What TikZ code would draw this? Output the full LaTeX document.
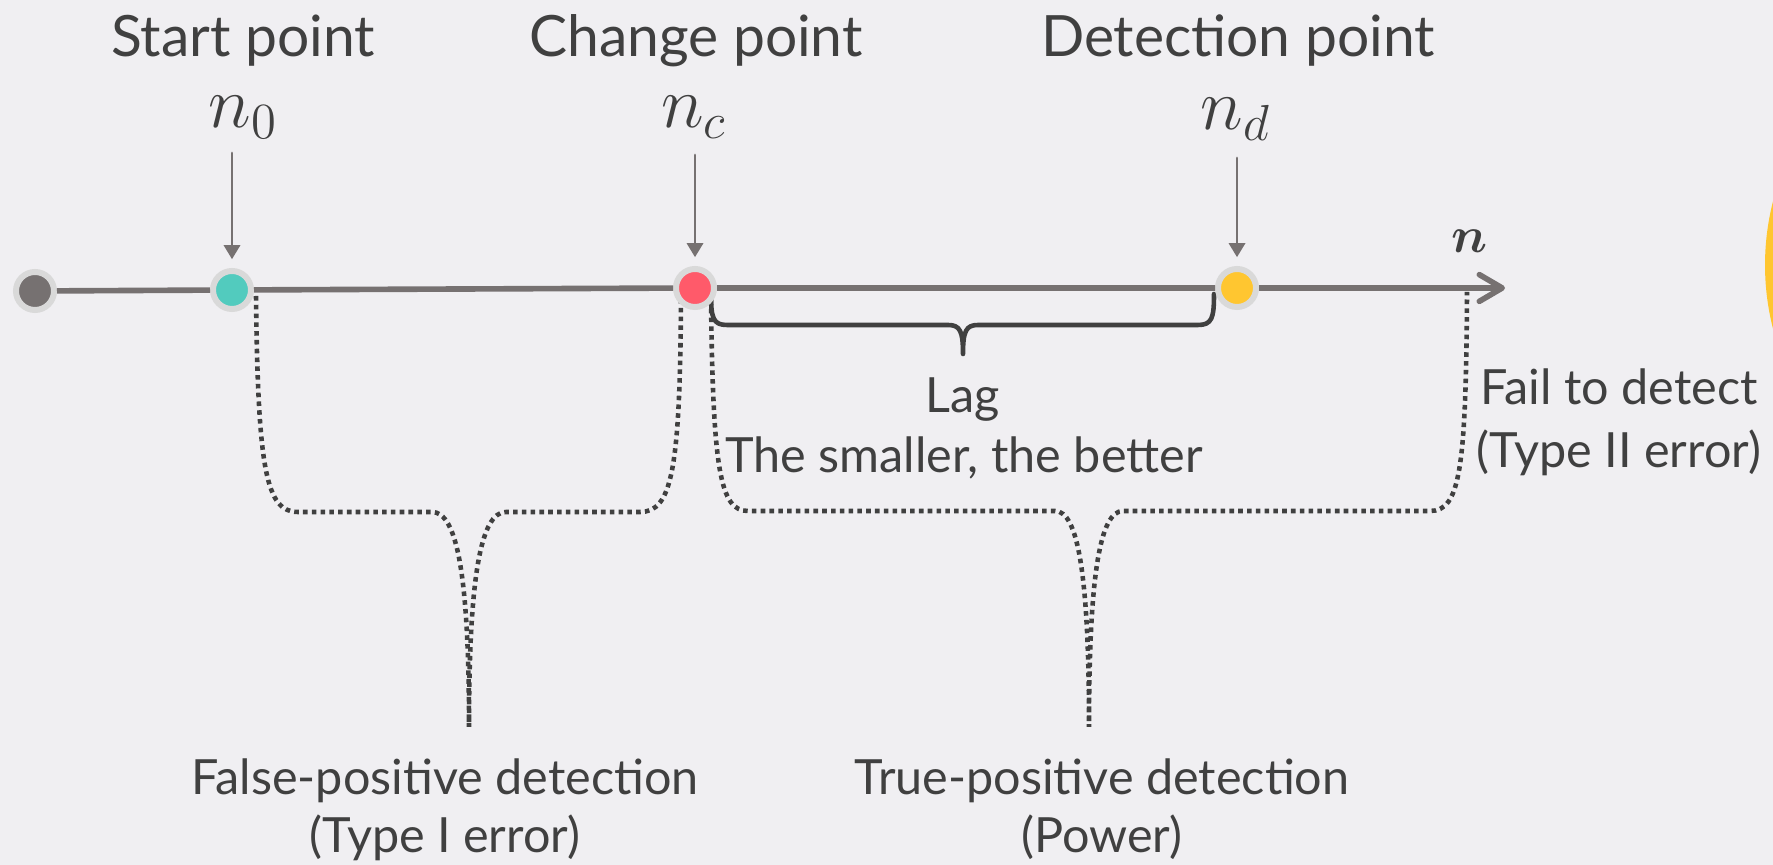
\documentclass[tikz,border=0pt]{standalone}
\usepackage{amsmath,amssymb}
\usepackage[no-math]{fontspec}
\setmainfont{Lato}
\usepackage{tikz}
\usetikzlibrary{arrows.meta}
\usepackage{xcolor}
\definecolor{bgcol}{HTML}{F0EFF2}
\definecolor{axisgray}{HTML}{767171}
\definecolor{ringgray}{HTML}{D9D9D9}
\definecolor{dotteal}{HTML}{52CBBE}
\definecolor{dotred}{HTML}{FF5A6A}
\definecolor{dotyellow}{HTML}{FFC630}
\definecolor{inkgray}{HTML}{404040}

\begin{document}
\begin{tikzpicture}[x=0.01cm,y=-0.01cm,line cap=round,
  dot/.style={circle,draw=ringgray,line width=1.7pt,minimum size=3.8mm,inner sep=0pt},
  axisline/.style={axisgray,line width=1.6pt,line cap=butt},
  pointer/.style={axisgray,line width=0.8pt,-{Triangle[length=4pt,width=4.6pt]},shorten >=2.5pt},
  dotpath/.style={draw=inkgray,line width=1.3pt,line cap=butt,dash pattern=on 1.3pt off 1.2pt},
  heading/.style={text=inkgray,font=\fontsize{16.2}{19}\selectfont,anchor=base},
  caption/.style={text=inkgray,font=\fontsize{13.8}{17}\selectfont,anchor=base},
  mathlabel/.style={text=inkgray,font=\fontsize{19.5}{22}\selectfont,anchor=base}]
\fill[bgcol] (0,0) rectangle (1773,865);
\useasboundingbox (0,0) rectangle (1773,865);
\begin{scope}
\clip (0,0) rectangle (1773,865);
\fill[dotyellow] (2021,265) circle (256);
\end{scope}
% dotted braces under the axis
\draw[dotpath] (256,296) .. controls (258,470) and (266,512) .. (298,512) -- (432,512)
  .. controls (457,512) and (469,575) .. (469,727) .. controls (469,575) and (481,512) .. (506,512)
  -- (640,512) .. controls (672,512) and (680,470) .. (681,298);
\draw[dotpath] (711,300) .. controls (713,470) and (720,511) .. (748,511) -- (1055,511)
  .. controls (1078,511) and (1089,575) .. (1089,727) .. controls (1089,575) and (1100,511) .. (1123,511)
  -- (1430,511) .. controls (1460,511) and (1466,470) .. (1467,292);
% lag brace
\draw[inkgray,line width=1.3pt,line join=round] (711,294) .. controls (711,318) and (713,325) .. (727,325)
  -- (948,325) .. controls (960,325) and (963,331) .. (963,354) .. controls (963,331) and (966,325) .. (978,325)
  -- (1198,325) .. controls (1212,325) and (1214,318) .. (1214,294);
% points on the axis
\node[dot,fill=axisgray] (origin) at (35,291) {};
\node[dot,fill=dotteal] (start) at (232,290) {};
\node[dot,fill=dotred] (change) at (695,288) {};
\node[dot,fill=dotyellow] (detect) at (1237,288) {};
\coordinate (axisend) at (1505,288);
\draw[axisline] (origin) -- (start) -- (change) -- (detect);
\draw[axisline,-{Straight Barb[length=6.5pt,width=7.6pt,round]}] (detect) -- (axisend);
\node[text=inkgray,font=\fontsize{15.5}{18}\selectfont,anchor=base] (axisname) at (1470,253) {$\boldsymbol{n}$};
% pointers from the labels
\coordinate (starttop) at (232,153);
\coordinate (changetop) at (695,155);
\coordinate (detecttop) at (1237,158);
\draw[pointer] (starttop) -- (start);
\draw[pointer] (changetop) -- (change);
\draw[pointer] (detecttop) -- (detect);
\node[heading] (startname) at (243,57) {Start point};
\node[heading] (changename) at (696,57) {Change point};
\node[heading] (detectname) at (1238,57) {Detection point};
\node[mathlabel] (startsym) at (243,128) {$n_0$};
\node[mathlabel] (changesym) at (694,128) {$n_c$};
\node[mathlabel] (detectsym) at (1236,130) {$n_d$};
% captions
\node[caption] (lag) at (963,413) {Lag};
\node[caption] (lagnote) at (964,473) {The smaller, the better};
\node[caption] (miss) at (1619,405) {Fail to detect};
\node[caption] (missnote) at (1619,468) {(Type II error)};
\node[caption] (falsepos) at (445,795) {False-positive detection};
\node[caption] (falsenote) at (445,853) {(Type I error)};
\node[caption] (truepos) at (1102,795) {True-positive detection};
\node[caption] (truenote) at (1102,853) {(Power)};
\end{tikzpicture}
\end{document}
